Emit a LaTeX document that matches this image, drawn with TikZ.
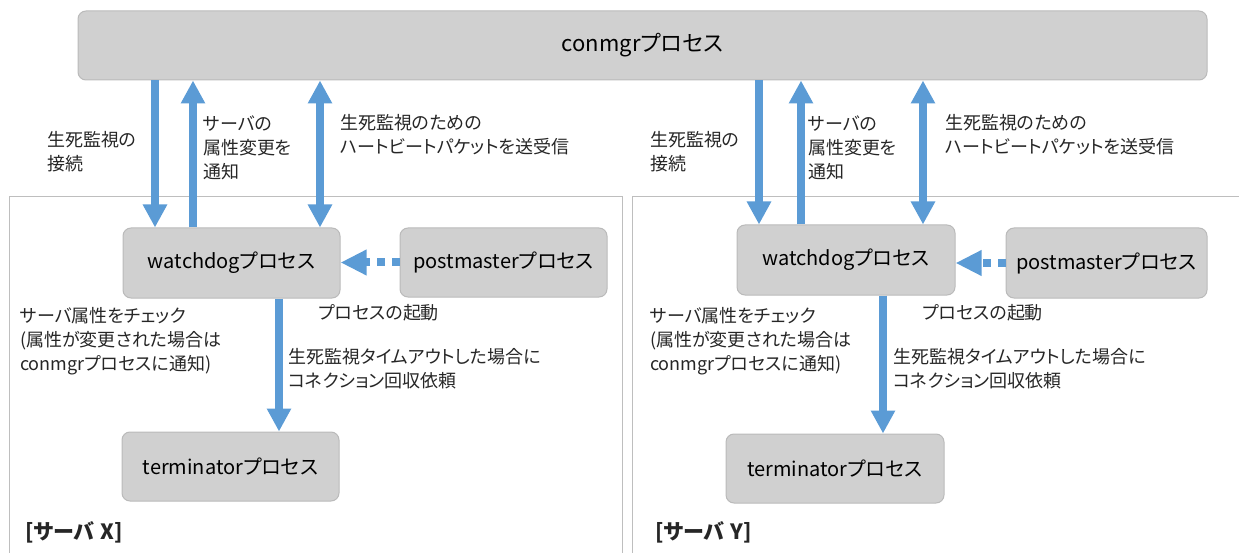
\documentclass[tikz,border=0pt]{standalone}
\usepackage{fontspec}
\setmainfont[RawFeature=+palt]{Noto Sans CJK JP}
\usepackage{tikz}
\usetikzlibrary{arrows.meta}
\usepackage{xcolor}
\definecolor{boxgray}{RGB}{208,208,208}
\definecolor{boxline}{RGB}{186,186,186}
\definecolor{arrowblue}{RGB}{91,155,213}
\definecolor{framegray}{RGB}{190,190,190}

\begin{document}
\begin{tikzpicture}[x=1pt,y=-1pt,
  proc/.style={draw=boxline, fill=boxgray, rounded corners=8pt, line width=1pt,
               font=\fontsize{20}{24}\selectfont, inner sep=0pt},
  lbl/.style={anchor=base west, align=left, inner sep=0pt,
              font=\fontsize{18}{24}\selectfont, text=black!85},
  blarrow/.style={arrowblue, line width=7.5pt, -{Triangle[width=23pt,length=23pt]}},
  bldouble/.style={arrowblue, line width=7.5pt,
                   {Triangle[width=23pt,length=23pt]}-{Triangle[width=23pt,length=23pt]}},
  bldots/.style={arrowblue, line width=8pt, dash pattern=on 8pt off 7pt,
                 -{Triangle[width=24pt,length=26pt]}}]

\useasboundingbox (0,0) rectangle (1239,553);

% server frames (open at the bottom)
\draw[framegray, line width=1pt] (9,553) -- (9,197) -- (622,197) -- (622,553);
\draw[framegray, line width=1pt] (632,553) -- (632,197) -- (1239,197);

% conmgr process on top
\node[proc, minimum width=1129pt, minimum height=69pt, font=\fontsize{22}{26}\selectfont] (conmgr) at (642.5,45.5) {conmgrプロセス};

% server X
\node[proc, minimum width=217pt, minimum height=70pt] (wdX) at (231.5,263) {watchdogプロセス};
\node[proc, minimum width=207pt, minimum height=69pt] (pmX) at (503.5,262.5) {postmasterプロセス};
\node[proc, minimum width=217pt, minimum height=69pt] (tmX) at (230.5,466.5) {terminatorプロセス};

% server Y
\node[proc, minimum width=218pt, minimum height=70pt] (wdY) at (846,260) {watchdogプロセス};
\node[proc, minimum width=201pt, minimum height=70pt] (pmY) at (1106.5,263) {postmasterプロセス};
\node[proc, minimum width=218pt, minimum height=69pt] (tmY) at (835,468.5) {terminatorプロセス};

% arrows between conmgr and watchdog
\draw[blarrow]  (conmgr.south -| 155,0) -- (wdX.north -| 155,0);
\draw[blarrow]  (wdX.north -| 193,0) -- (conmgr.south -| 193,0);
\draw[bldouble] (conmgr.south -| 320,0) -- (wdX.north -| 320,0);

\draw[blarrow]  (conmgr.south -| 759,0) -- (wdY.north -| 759,0);
\draw[blarrow]  (wdY.north -| 801,0) -- (conmgr.south -| 801,0);
\draw[bldouble] (conmgr.south -| 923,0) -- (wdY.north -| 923,0);

% postmaster starts watchdog
\draw[bldots] (pmX.west) -- (pmX.west -| wdX.east);
\draw[bldots] (pmY.west) -- (pmY.west -| wdY.east);

% watchdog to terminator
\draw[blarrow] (wdX.south -| 279,0) -- (tmX.north -| 279,0);
\draw[blarrow] (wdY.south -| 883,0) -- (tmY.north -| 883,0);

% labels, server X (base = last line)
\node[lbl] (lkX) at (47,171) {生死監視の\\接続};
\node[lbl] (ltX) at (203,179) {サーバの\\属性変更を\\通知};
\node[lbl] (lhX) at (340,154) {生死監視のための\\ハートビートパケットを送受信};
\node[lbl] (lcX) at (20,370) {サーバ属性をチェック\\(属性が変更された場合は\\conmgrプロセスに通知)};
\node[lbl] (lsX) at (318,319) {プロセスの起動};
\node[lbl] (lrX) at (288,387) {生死監視タイムアウトした場合に\\コネクション回収依頼};
\node[lbl, font=\fontsize{21}{24}\selectfont\bfseries] (nX) at (25,539) {[サーバ\hspace{6pt}X]};

% labels, server Y
\node[lbl] (lkY) at (650,171) {生死監視の\\接続};
\node[lbl] (ltY) at (808,179) {サーバの\\属性変更を\\通知};
\node[lbl] (lhY) at (945,154) {生死監視のための\\ハートビートパケットを送受信};
\node[lbl] (lcY) at (650,370) {サーバ属性をチェック\\(属性が変更された場合は\\conmgrプロセスに通知)};
\node[lbl] (lsY) at (922,319) {プロセスの起動};
\node[lbl] (lrY) at (893,387) {生死監視タイムアウトした場合に\\コネクション回収依頼};
\node[lbl, font=\fontsize{21}{24}\selectfont\bfseries] (nY) at (655,539) {[サーバ\hspace{6pt}Y]};

\end{tikzpicture}
\end{document}
